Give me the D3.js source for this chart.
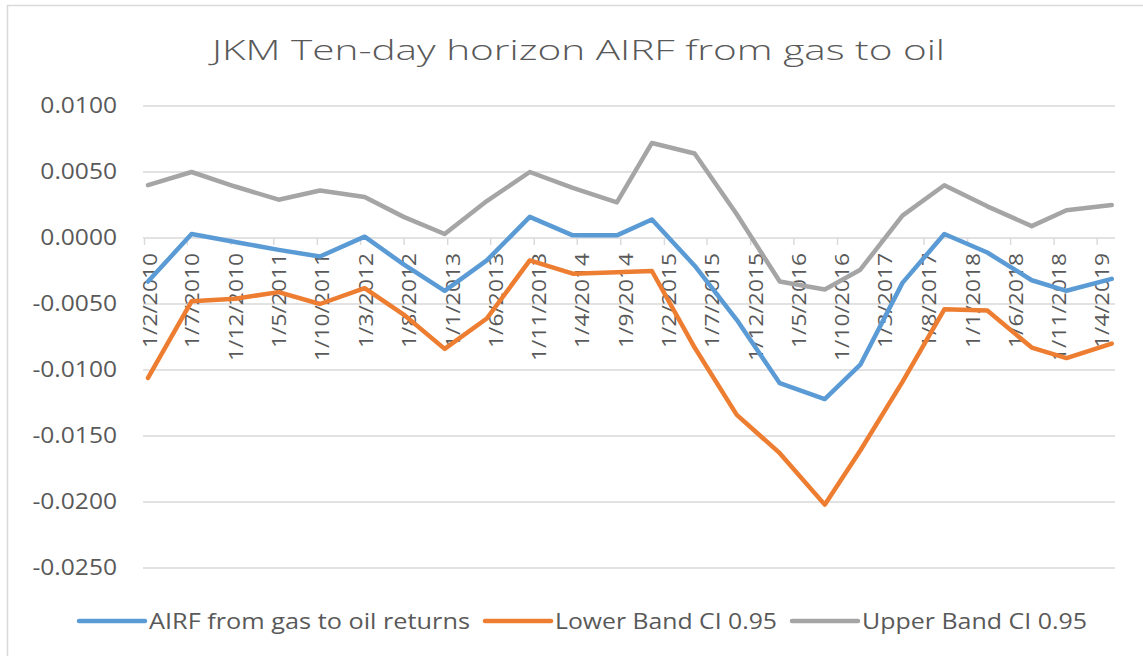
<!DOCTYPE html>
<html>
<head>
<meta charset="utf-8">
<script src="https://cdn.jsdelivr.net/npm/d3@7"></script>
<style>
  body { margin: 0; background: #ffffff; }
  text { font-family: "Open Sans", "Noto Sans", sans-serif; fill: #595959; }
</style>
</head>
<body>
<svg id="chart" width="1143" height="656"></svg>
<script>
// ---- data ----
const chartTitle = "JKM Ten-day horizon AIRF from gas to oil";

const tickLabels = [
  "1/2/2010", "1/7/2010", "1/12/2010", "1/5/2011", "1/10/2011", "1/3/2012",
  "1/8/2012", "1/1/2013", "1/6/2013", "1/11/2013", "1/4/2014", "1/9/2014",
  "1/2/2015", "1/7/2015", "1/12/2015", "1/5/2016", "1/10/2016", "1/3/2017",
  "1/8/2017", "1/1/2018", "1/6/2018", "1/11/2018", "1/4/2019"
];

const obsDates = [
  "2010-02-15", "2010-07-18", "2010-12-18", "2011-05-20", "2011-10-12", "2012-03-17",
  "2012-08-01", "2012-12-23", "2013-05-20", "2013-10-18", "2014-03-18", "2014-08-20",
  "2014-12-21", "2015-05-20", "2015-10-15", "2016-03-14", "2016-08-19", "2016-12-22",
  "2017-05-19", "2017-10-13", "2018-03-13", "2018-08-16", "2018-12-16", "2019-05-24"
];

const airfReturns = [
  -0.0033, 0.0003, -0.0003, -0.0009, -0.0014, 0.0001,
  -0.0020, -0.0040, -0.0017, 0.0016, 0.0002, 0.0002,
  0.0014, -0.0021, -0.0062, -0.0110, -0.0122, -0.0096,
  -0.0034, 0.0003, -0.0011, -0.0032, -0.0040, -0.0031
];

const lowerBand = [
  -0.0106, -0.0048, -0.0046, -0.0041, -0.0050, -0.0038,
  -0.0058, -0.0084, -0.0061, -0.0017, -0.0027, -0.0026,
  -0.0025, -0.0083, -0.0134, -0.0163, -0.0202, -0.0161,
  -0.0109, -0.0054, -0.0055, -0.0083, -0.0091, -0.0080
];

const upperBand = [
  0.0040, 0.0050, 0.0039, 0.0029, 0.0036, 0.0031,
  0.0016, 0.0003, 0.0028, 0.0050, 0.0038, 0.0027,
  0.0072, 0.0064, 0.0018, -0.0033, -0.0039, -0.0024,
  0.0017, 0.0040, 0.0024, 0.0009, 0.0021, 0.0025
];

const seriesNames = ["AIRF from gas to oil returns", "Lower Band CI 0.95", "Upper Band CI 0.95"];
const seriesColors = ["#5B9BD5", "#ED7D31", "#A5A5A5"];
const yTickValues = [0.01, 0.005, 0, -0.005, -0.01, -0.015, -0.02, -0.025];

// ---- layout ----
const svg = d3.select("#chart");
const plot = { left: 144, right: 1114, top: 106, bottom: 568 };
const gridColor = "#D9D9D9";

const parseTick = d3.timeParse("%d/%m/%Y");
const parseObs = d3.timeParse("%Y-%m-%d");
const tickDates = tickLabels.map(parseTick);
const dates = obsDates.map(parseObs);

const x = d3.scaleTime()
  .domain([tickDates[0], d3.timeMonth.offset(tickDates[tickDates.length - 1], 2)])
  .range([plot.left, plot.right]);

const y = d3.scaleLinear()
  .domain([-0.025, 0.01])
  .range([plot.bottom, plot.top]);

// chart frame
svg.append("rect")
  .attr("x", 7.5).attr("y", 5.5)
  .attr("width", 1300).attr("height", 800)
  .attr("fill", "#ffffff")
  .attr("stroke", gridColor).attr("stroke-width", 1.5);

// title
svg.append("text")
  .attr("x", 578.5).attr("y", 60)
  .attr("text-anchor", "middle")
  .attr("font-size", 28)
  .attr("font-weight", 300)
  .attr("textLength", 733)
  .attr("lengthAdjust", "spacingAndGlyphs")
  .text(chartTitle);

// horizontal gridlines
svg.append("g")
  .selectAll("line")
  .data(yTickValues)
  .join("line")
  .attr("x1", plot.left - 1).attr("x2", plot.right + 1)
  .attr("y1", d => y(d)).attr("y2", d => y(d))
  .attr("stroke", gridColor).attr("stroke-width", 1.4);

// y axis labels (plain hyphen for negatives)
const locale = d3.formatLocale({ decimal: ".", thousands: ",", grouping: [3], currency: ["", ""], minus: "-" });
const fmtY = locale.format(".4f");
svg.append("g")
  .selectAll("text")
  .data(yTickValues)
  .join("text")
  .attr("transform", d => `translate(117,${y(d)}) scale(1.17,1)`)
  .attr("text-anchor", "end")
  .attr("dy", "0.35em")
  .attr("font-size", 21)
  .text(d => fmtY(d));

// x axis along zero with rotated date labels
const fmtX = d3.timeFormat("%-d/%-m/%Y");
const xAxis = svg.append("g")
  .attr("transform", `translate(0,${y(0)})`)
  .call(d3.axisBottom(x).tickValues(tickDates).tickSize(7).tickFormat(fmtX));

xAxis.select(".domain").remove();
xAxis.selectAll(".tick line").attr("stroke", gridColor).attr("stroke-width", 1.4);
xAxis.selectAll(".tick text")
  .attr("x", 0).attr("y", 0)
  .attr("dy", "0.35em")
  .attr("text-anchor", "end")
  .attr("transform", "rotate(-90) translate(-15,5) scale(1.14,1)")
  .attr("font-size", 20)
  .attr("font-family", "\"Open Sans\", sans-serif")
  .attr("fill", "#595959");

// series lines
const seriesValues = [airfReturns, lowerBand, upperBand];
const line = d3.line()
  .x(d => x(d.date))
  .y(d => y(d.value));

seriesValues.forEach((vals, i) => {
  const pts = vals.map((v, j) => ({ date: dates[j], value: v }));
  svg.append("path")
    .datum(pts)
    .attr("fill", "none")
    .attr("stroke", seriesColors[i])
    .attr("stroke-width", 4.5)
    .attr("stroke-linejoin", "round")
    .attr("stroke-linecap", "round")
    .attr("d", line);
});

// legend
const legendY = 621;
const sampleLen = 66;
const textWidths = [321, 222, 225];
let lx = 79;
const legend = svg.append("g");
seriesNames.forEach((name, i) => {
  legend.append("line")
    .attr("x1", lx).attr("x2", lx + sampleLen)
    .attr("y1", legendY).attr("y2", legendY)
    .attr("stroke", seriesColors[i])
    .attr("stroke-width", 4.5)
    .attr("stroke-linecap", "round");
  legend.append("text")
    .attr("x", lx + sampleLen + 4)
    .attr("y", legendY + 7.5)
    .attr("font-size", 21)
    .attr("textLength", textWidths[i])
    .attr("lengthAdjust", "spacingAndGlyphs")
    .text(name);
  lx += sampleLen + 4 + textWidths[i] + 15;
});
</script>
</body>
</html>
